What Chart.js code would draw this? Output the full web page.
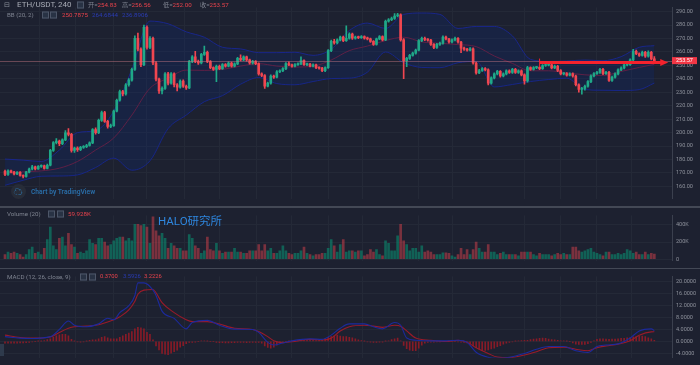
<!DOCTYPE html>
<html lang="zh">
<head>
  <meta charset="UTF-8">
  <title>ETH/USDT, 240</title>
  <script src="https://cdn.jsdelivr.net/npm/chart.js@4"></script>
  <style>
    body { margin: 0; background: #1d2130; }
    #wrap { position: relative; width: 700px; height: 365px; overflow: hidden; background: #1d2130;
            font-family: Roboto, "Noto Sans CJK SC", "Liberation Sans", sans-serif; }
    .pane { position: absolute; left: 0; width: 700px; }
    .sep { position: absolute; left: 0; width: 700px; background: #434855; }
    .t { position: absolute; white-space: nowrap; line-height: 1; transform: translateY(-50%);
         font-size: 6.2px; color: #7f8491; }
    .r { color: #e8434c; }
    .b { color: #2a3cb4; }
    .ico { position: absolute; width: 5px; height: 5px; border: 1px solid #4d5668; background: #283244;
           transform: translateY(-50%); }
  </style>
</head>
<body>
<div id="wrap">
  <div class="pane" style="top:0;height:206px"><canvas id="priceChart"></canvas></div>
  <div class="sep" style="top:206px;height:2px"></div>
  <div class="pane" style="top:208px;height:60px"><canvas id="volChart"></canvas></div>
  <div class="sep" style="top:268px;height:1px"></div>
  <div class="pane" style="top:269px;height:96px"><canvas id="macdChart"></canvas></div>

  <!-- legends -->
  <span class="t" style="left:4px;top:5px;font-size:7px;color:#8a8f9b">⊟</span>
  <span class="t" style="left:17px;top:5px;font-size:8px;color:#a7abb5">ETH/USDT, 240</span>
  <span class="ico" style="left:77px;top:5px"></span>
  <span class="t" style="left:88px;top:5px">开=<span class="r">254.83</span></span>
  <span class="t" style="left:122px;top:5px">高=<span class="r">256.56</span></span>
  <span class="t" style="left:163px;top:5px">低=<span class="r">252.00</span></span>
  <span class="t" style="left:200px;top:5px">收=<span class="r">253.57</span></span>

  <span class="t" style="left:7px;top:15px">BB (20, 2)</span>
  <span class="ico" style="left:42px;top:15px"></span>
  <span class="ico" style="left:50px;top:15px"></span>
  <span class="t r" style="left:62px;top:15px">250.7875</span>
  <span class="t b" style="left:92px;top:15px">264.6844</span>
  <span class="t b" style="left:122px;top:15px">236.8906</span>

  <div style="position:absolute;left:11px;top:184px;width:15px;height:15px;border-radius:50%;background:#272c38"></div>
  <span class="t" style="left:13.5px;top:191.5px;font-size:9px;color:#2f8fd8">☁</span>
  <span class="t" style="left:31px;top:192px;font-size:6.7px;font-weight:600;color:#2a6ea8">Chart by TradingView</span>

  <span class="t" style="left:7px;top:214px">Volume (20)</span>
  <span class="ico" style="left:48px;top:214px"></span>
  <span class="ico" style="left:57px;top:214px"></span>
  <span class="t r" style="left:68px;top:214px">59.928K</span>
  <span class="t" style="left:158px;top:222px;font-size:11.5px;color:#2e86de">HALO研究所</span>

  <span class="t" style="left:7px;top:277px">MACD (12, 26, close, 9)</span>
  <span class="ico" style="left:80px;top:277px"></span>
  <span class="ico" style="left:89px;top:277px"></span>
  <span class="t r" style="left:100px;top:277px;font-size:5.8px">0.3700</span>
  <span class="t b" style="left:123px;top:277px;font-size:5.8px">3.5926</span>
  <span class="t r" style="left:144px;top:277px;font-size:5.8px">3.2226</span>
  <div style="position:absolute;left:0;top:344px;width:4px;height:12px;background:#2e3a4c"></div>
</div>

<script>
  // ETH/USDT 4h candles
  const firstOpen = 171.1;
  const closes = [
    168.8, 171.5, 170.6, 169.2, 170.4, 168.1, 167.4, 170.6, 172.9, 174.5, 172.9, 174.8,
    175.2, 173.4, 175.7, 186.7, 192.5, 193.7, 191.8, 194.6, 199.9, 198.7, 186.7, 188.4,
    187.2, 189.0, 189.5, 190.4, 192.3, 202.2, 199.9, 209.1, 214.9, 208.4, 204.5, 205.2,
    216.0, 224.1, 230.5, 228.7, 235.6, 239.1, 247.1, 270.2, 262.1, 250.6, 278.3, 263.3,
    270.2, 251.8, 239.8, 231.0, 232.9, 243.7, 236.8, 243.7, 235.6, 233.8, 238.4, 234.5,
    233.3, 252.9, 256.4, 252.9, 251.8, 258.2, 259.8, 252.9, 248.3, 247.1, 249.4, 247.6,
    250.6, 249.4, 251.8, 249.4, 251.1, 255.2, 254.1, 256.4, 254.1, 251.8, 252.9, 251.3,
    243.7, 242.5, 234.5, 236.8, 242.1, 241.2, 245.3, 246.0, 247.6, 251.3, 250.4, 249.4,
    250.6, 251.1, 253.6, 250.6, 250.9, 249.4, 250.4, 248.3, 248.0, 246.0, 248.3, 261.0,
    267.9, 266.7, 269.0, 271.1, 268.4, 270.2, 273.4, 270.2, 271.1, 270.7, 271.4, 270.2,
    269.7, 267.9, 265.6, 269.7, 271.4, 269.0, 282.9, 284.0, 284.9, 286.8, 287.7, 269.0,
    253.6, 255.2, 257.5, 259.1, 261.4, 268.4, 270.2, 269.3, 268.8, 265.6, 263.3, 265.6,
    266.5, 271.1, 269.7, 267.4, 269.0, 270.2, 267.4, 262.8, 262.1, 261.4, 262.4, 251.8,
    244.4, 246.2, 247.6, 246.7, 236.8, 240.7, 243.7, 245.5, 242.1, 243.7, 246.0, 244.8,
    247.1, 244.8, 246.0, 243.0, 238.4, 248.3, 247.1, 248.3, 248.5, 247.6, 249.9, 250.2,
    250.5, 248.1, 249.4, 246.2, 243.7, 243.9, 242.8, 243.7, 242.1, 235.6, 232.2, 232.9,
    234.5, 237.9, 242.1, 243.9, 244.8, 247.1, 243.9, 244.8, 238.8, 241.2, 243.7, 246.7,
    248.1, 250.4, 250.6, 254.1, 260.5, 258.7, 257.5, 259.8, 256.8, 259.8, 254.83, 253.57
  ];
  const highs = [
    172.0, 172.3, 172.0, 171.2, 171.0, 170.9, 168.6, 171.2, 173.6, 175.6, 175.0, 175.4,
    176.0, 175.8, 176.5, 187.5, 193.3, 195.5, 194.4, 195.3, 201.5, 203.0, 199.5, 189.2,
    189.4, 189.8, 190.4, 191.2, 193.1, 203.0, 203.6, 210.0, 216.0, 215.8, 209.2, 206.4,
    216.8, 225.0, 231.6, 231.4, 236.5, 240.2, 248.0, 272.0, 274.0, 263.0, 280.0, 279.4,
    271.5, 271.0, 252.8, 240.6, 234.0, 244.6, 244.8, 244.6, 244.4, 236.5, 239.3, 239.2,
    235.3, 253.8, 257.3, 260.5, 254.0, 259.0, 264.4, 260.6, 253.6, 249.0, 250.2, 250.2,
    251.4, 251.3, 252.6, 252.5, 252.0, 256.0, 257.8, 257.2, 257.0, 254.8, 253.7, 253.6,
    252.0, 244.5, 243.2, 237.6, 242.9, 242.8, 246.1, 246.8, 248.4, 252.1, 252.6, 251.0,
    251.3, 251.9, 256.4, 254.2, 251.7, 251.5, 251.1, 251.0, 249.0, 248.6, 249.0, 261.8,
    268.8, 269.5, 269.8, 271.9, 271.8, 279.4, 274.3, 274.0, 271.9, 271.8, 272.2, 272.0,
    271.0, 270.3, 268.5, 270.4, 272.2, 272.0, 283.8, 284.8, 286.0, 288.5, 288.8, 288.4,
    270.0, 256.0, 258.3, 259.9, 262.2, 269.2, 271.0, 271.0, 270.0, 269.4, 266.2, 266.4,
    267.3, 272.0, 271.8, 270.2, 269.8, 271.0, 270.8, 268.0, 263.6, 262.8, 263.2, 263.0,
    252.5, 247.0, 248.4, 248.3, 247.4, 241.5, 244.5, 246.3, 246.2, 244.5, 246.8, 246.7,
    247.9, 247.8, 246.8, 246.7, 243.7, 249.4, 249.0, 249.1, 249.3, 249.2, 250.7, 251.0,
    251.3, 251.2, 250.2, 250.0, 246.9, 244.7, 244.6, 244.5, 244.4, 242.8, 236.3, 233.7,
    235.3, 238.7, 242.9, 244.7, 245.6, 247.9, 247.8, 245.6, 245.5, 242.0, 244.5, 247.5,
    248.9, 251.2, 251.4, 254.9, 262.0, 261.5, 259.4, 260.6, 260.5, 260.8, 260.4, 256.56
  ];
  const lows = [
    168.0, 168.2, 169.9, 168.5, 168.6, 167.5, 166.2, 166.9, 170.0, 172.3, 172.2, 172.5,
    174.0, 172.8, 173.0, 175.2, 185.9, 191.6, 190.2, 191.0, 194.0, 197.5, 185.5, 185.2,
    186.0, 186.6, 188.3, 188.8, 189.8, 191.7, 198.8, 199.2, 208.3, 207.6, 203.2, 203.6,
    204.6, 215.3, 223.4, 227.3, 227.9, 234.6, 238.3, 246.3, 260.8, 249.0, 249.8, 262.0,
    262.5, 250.5, 238.5, 229.2, 228.8, 232.1, 235.5, 236.0, 234.0, 231.0, 233.0, 233.6,
    232.2, 232.6, 252.1, 252.0, 250.8, 251.1, 257.5, 252.0, 247.5, 246.2, 237.9, 246.8,
    247.0, 248.7, 248.8, 248.6, 248.8, 250.5, 253.3, 253.5, 253.2, 251.0, 251.0, 250.5,
    242.8, 241.6, 232.8, 233.9, 236.0, 240.4, 240.6, 244.6, 245.3, 246.9, 249.8, 248.7,
    248.8, 250.0, 250.5, 249.9, 249.8, 248.8, 248.8, 247.6, 247.2, 245.3, 245.4, 247.7,
    260.3, 265.9, 266.0, 268.3, 267.6, 267.8, 269.5, 269.4, 269.6, 269.9, 270.0, 269.5,
    268.9, 267.1, 264.8, 265.0, 269.1, 268.2, 268.4, 282.1, 283.3, 284.2, 286.0, 268.0,
    240.2, 249.0, 254.5, 256.8, 258.4, 260.8, 267.6, 268.5, 268.0, 264.8, 262.4, 262.7,
    264.9, 265.9, 269.0, 266.6, 266.8, 268.3, 266.6, 259.5, 261.2, 260.6, 260.8, 250.9,
    243.5, 243.8, 245.5, 245.9, 235.4, 236.0, 240.0, 243.0, 241.3, 241.4, 243.0, 244.0,
    244.1, 244.0, 244.1, 242.2, 236.0, 237.6, 246.3, 246.5, 247.6, 246.9, 247.0, 249.2,
    249.6, 247.4, 247.5, 245.4, 242.9, 243.0, 242.0, 242.1, 241.3, 234.8, 230.0, 228.6,
    231.5, 233.8, 237.2, 241.5, 243.2, 244.1, 243.1, 243.2, 238.0, 238.1, 240.5, 243.0,
    246.0, 247.4, 249.7, 249.9, 253.4, 257.9, 256.7, 256.8, 256.0, 256.1, 254.1, 252.00
  ];
  // volume in K
  const volumes = [
    53, 82, 68, 82, 68, 53, 24, 53, 112, 141, 68, 82,
    53, 126, 229, 376, 156, 112, 244, 259, 156, 303, 170, 141,
    68, 82, 68, 97, 229, 185, 170, 244, 244, 200, 156, 170,
    215, 244, 259, 259, 215, 244, 215, 406, 406, 391, 406, 376,
    185, 494, 332, 273, 303, 244, 126, 185, 156, 126, 126, 97,
    97, 288, 244, 156, 126, 68, 97, 259, 112, 97, 185, 97,
    68, 82, 82, 82, 126, 82, 82, 68, 68, 97, 97, 97,
    170, 97, 170, 97, 126, 68, 68, 97, 156, 97, 68, 53,
    68, 68, 97, 141, 68, 53, 38, 53, 53, 68, 68, 126,
    229, 156, 82, 170, 229, 82, 97, 97, 82, 97, 97, 38,
    53, 112, 82, 112, 53, 38, 215, 185, 97, 97, 273, 406,
    215, 170, 97, 126, 126, 82, 156, 82, 97, 82, 53, 53,
    53, 74, 74, 68, 38, 24, 53, 126, 53, 112, 53, 112,
    200, 126, 82, 82, 170, 82, 82, 53, 68, 82, 53, 53,
    53, 53, 38, 82, 82, 82, 82, 53, 38, 68, 53, 53,
    53, 38, 53, 68, 53, 68, 53, 53, 141, 141, 97, 82,
    97, 112, 126, 82, 68, 53, 38, 82, 82, 53, 53, 68,
    53, 68, 112, 97, 68, 82, 53, 53, 82, 53, 68, 59.928
  ];
  const macdHist = [
    -0.6, -0.6, -0.6, -0.6, -0.6, -0.5, -0.5, -0.4, -0.3, -0.1, 0.0, 0.1,
    0.1, 0.3, 0.6, 0.9, 1.4, 1.9, 2.2, 2.4, 2.4, 1.9, 0.7, 0.1,
    -0.1, -0.2, -0.1, 0.1, 0.4, 0.5, 0.5, 0.9, 1.4, 1.6, 1.2, 0.9,
    0.9, 0.9, 1.4, 1.9, 2.4, 2.8, 3.3, 4.2, 4.7, 4.5, 4.2, 3.0,
    2.4, 0.5, -1.5, -2.8, -4.0, -4.2, -4.4, -3.9, -3.4, -2.9, -1.9, -1.4,
    -0.7, -0.3, -0.3, -0.2, 0.0, 0.2, 0.2, 0.1, 0.0, 0.0, -0.3, -0.4,
    -0.4, -0.5, -0.5, -0.4, -0.4, -0.3, -0.3, -0.3, -0.4, -0.3, -0.3, -0.3,
    -0.3, -0.6, -1.5, -2.0, -2.2, -1.9, -1.2, -0.6, -0.3, 0.0, 0.1, 0.2,
    0.3, 0.3, 0.5, 0.4, 0.5, 0.5, 0.4, 0.3, 0.4, 0.6, 0.9, 1.4,
    1.6, 1.8, 2.1, 1.8, 1.6, 1.6, 1.4, 1.2, 0.9, 0.5, 0.3, 0.1,
    -0.1, -0.2, -0.3, -0.3, -0.2, -0.2, 0.1, 0.2, 0.6, 0.9, 1.1, 0.2,
    -1.3, -2.4, -2.9, -3.1, -3.1, -2.2, -1.2, -0.6, -0.3, -0.2, -0.2, -0.1,
    -0.1, 0.0, 0.0, 0.1, 0.1, 0.0, -0.1, -0.2, -0.3, -0.5, -0.8, -1.5,
    -2.1, -2.6, -3.1, -3.0, -2.8, -2.5, -2.2, -1.7, -1.4, -0.9, -0.6, -0.3,
    -0.1, 0.1, 0.2, 0.3, 0.4, 0.4, 0.6, 0.8, 0.9, 1.0, 1.1, 1.0,
    0.8, 0.6, 0.5, 0.4, 0.2, 0.2, 0.1, 0.0, -0.5, -0.9, -1.0, -1.0,
    -1.0, -0.7, -0.3, 0.2, 0.7, 0.9, 0.9, 0.8, 0.7, 0.8, 0.8, 0.9,
    1.0, 1.0, 1.2, 1.3, 1.5, 1.6, 1.7, 1.8, 1.6, 1.2, 0.9, 0.37
  ];

  // Bollinger bands, read every 6 candles
  const bbIdx = [0, 6, 12, 18, 24, 30, 36, 42, 48, 54, 60, 66, 72, 78, 84, 90, 96, 102, 108,
                 114, 120, 126, 132, 138, 144, 150, 156, 162, 168, 174, 180, 186, 192, 198, 204, 210, 215];
  const bbUpper = [180.3, 179.5, 178.5, 187.0, 200.0, 201.5, 216.0, 247.0, 283.0, 281.0, 275.0, 271.0,
                   263.5, 262.3, 259.5, 259.5, 259.8, 257.5, 262.0, 276.0, 281.5, 277.5, 288.0, 289.0,
                   288.0, 277.5, 279.0, 279.0, 272.0, 254.5, 253.0, 253.3, 254.0, 253.5, 256.5, 263.5, 264.68];
  const bbMiddle = [170.0, 170.8, 171.5, 173.5, 178.5, 187.0, 196.0, 213.0, 233.0, 240.5, 246.5, 246.3,
                    247.0, 249.5, 251.3, 249.5, 248.8, 249.4, 254.0, 261.0, 264.4, 268.5, 271.0, 267.5,
                    266.5, 265.5, 264.0, 257.0, 251.5, 246.0, 246.0, 244.5, 243.0, 242.5, 245.5, 248.5, 250.79];
  const bbLower = [160.8, 164.5, 167.5, 167.7, 168.5, 174.0, 181.0, 172.0, 179.0, 203.0, 213.0, 223.0,
                   227.5, 236.0, 241.0, 236.5, 235.6, 238.0, 240.2, 240.5, 245.0, 260.0, 252.0, 248.5,
                   248.3, 252.0, 253.0, 234.0, 235.8, 238.0, 239.5, 240.5, 232.0, 231.5, 231.3, 232.0, 236.89];

  // MACD (12, 26, 9) lines, read at these candles
  const macdIdx = [0, 5, 9, 15, 18, 21, 23, 27, 31, 34, 36, 38, 41, 43, 44, 46, 49, 50, 52, 56,
                   60, 62, 67, 71, 76, 82, 84, 87, 89, 92, 95, 101, 105, 108, 111, 114, 119, 122, 125, 129,
                   131, 133, 136, 141, 146, 150, 153, 156, 160, 163, 167, 172, 176, 180, 185, 189, 193, 196, 199, 203,
                   207, 210, 214, 215];
  const macdLine = [1.6, 1.1, 1.0, 1.6, 4.0, 6.8, 5.4, 4.9, 5.85, 7.7, 7.2, 9.6, 11.9, 15.3, 19.5, 19.5, 17.1, 15.3, 10.1, 7.7,
                    4.2, 6.3, 7.0, 5.4, 4.1, 4.0, 3.0, -0.3, -1.2, -0.5, 0.2, 0.85, 0.7, 2.1, 4.4, 5.85, 5.85, 4.9, 4.2, 6.3,
                    5.4, 1.15, 0.4, 0.2, 0.2, 0.4, -0.3, -3.6, -5.3, -5.6, -5.3, -4.0, -2.6, -1.7, -1.7, -3.1, -3.7, -1.7, -1.2, -0.8,
                    1.15, 3.5, 4.2, 3.5926];
  const signalLine = [2.1, 1.3, 1.1, 1.5, 3.0, 4.4, 4.9, 5.1, 5.55, 6.5, 7.2, 8.2, 10.5, 13.4, 15.7, 17.1, 17.3, 16.2, 12.9, 9.6,
                      7.2, 6.6, 6.6, 5.8, 4.4, 4.0, 3.3, 1.6, 0.2, -0.4, -0.1, 0.7, 0.5, 1.1, 3.5, 4.9, 5.4, 5.1, 4.7, 5.4,
                      5.1, 3.5, 1.15, 0.4, 0.0, 0.4, -0.3, -2.1, -4.0, -5.2, -5.4, -4.5, -3.4, -2.1, -1.9, -2.6, -3.1, -2.1, -1.5, -0.9,
                      0.2, 2.1, 3.2, 3.2226];

  const priceTicks = [160, 170, 180, 190, 200, 210, 220, 230, 240, 250, 260, 270, 280, 290];
  const volumeTicks = [0, 200, 400];
  const macdTicks = [-4, 0, 4, 8, 12, 16, 20];
  const timeGridIdx = [11.5, 23.5, 35.8, 47, 59.3, 70.9, 83.4, 95, 107, 118.5, 136.8, 148.3, 171.9, 183.8, 196, 207.6];

  const lastPrice = 253.57;
  const arrowMark = { fromIndex: 177, toIndex: 219.6, price: 252.1 };

  const FONT = 'Roboto, "Liberation Sans", sans-serif';
  const GRID = '#242937';
  const UP = '#1fa888';
  const DOWN = '#f04650';
  const X_MIN = -1.66, X_MAX = 220.85;

  const opens = [firstOpen].concat(closes.slice(0, -1));
  const candleIdx = closes.map((c, i) => i);
  const rising = closes.map((c, i) => c >= opens[i]);
  const pts = (ix, vals) => ix.map((x, k) => ({ x: x, y: vals[k] }));

  function timeAxis() {
    return {
      type: 'linear', min: X_MIN, max: X_MAX, offset: false,
      afterBuildTicks: a => { a.ticks = timeGridIdx.map(v => ({ value: v })); },
      afterFit: a => { a.height = 0; },
      ticks: { display: false },
      grid: { color: GRID, drawTicks: false, offset: false },
      border: { display: false }
    };
  }

  function sideAxis(min, max, ticks, fmt) {
    return {
      position: 'right', min: min, max: max, beginAtZero: false,
      afterBuildTicks: a => { a.ticks = ticks.map(v => ({ value: v })); },
      afterFit: a => { a.width = 28; },
      ticks: { color: '#8e929c', font: { family: FONT, size: 5.5 }, padding: 4, callback: fmt },
      grid: { color: GRID, drawTicks: false },
      border: { color: '#3b404e' }
    };
  }

  function baseOptions(yAxis) {
    return {
      responsive: true, maintainAspectRatio: false, animation: false, events: [],
      layout: { padding: 0 },
      plugins: { legend: { display: false }, tooltip: { enabled: false } },
      scales: { x: timeAxis(), y: yAxis }
    };
  }

  // last price line, red arrow and price tag
  const priceMarks = {
    id: 'priceMarks',
    afterDatasetsDraw(chart) {
      const { ctx, chartArea: a, scales: { x, y } } = chart;
      const py = Math.round(y.getPixelForValue(lastPrice)) + 0.5;
      ctx.save();
      ctx.strokeStyle = 'rgba(200,120,130,0.45)';
      ctx.lineWidth = 1;
      ctx.beginPath(); ctx.moveTo(a.left, py); ctx.lineTo(a.right, py); ctx.stroke();

      const ay = y.getPixelForValue(arrowMark.price);
      const x0 = x.getPixelForValue(arrowMark.fromIndex);
      const x1 = x.getPixelForValue(arrowMark.toIndex);
      ctx.strokeStyle = '#f5222d';
      ctx.fillStyle = '#f5222d';
      ctx.lineWidth = 3;
      ctx.beginPath(); ctx.moveTo(x0, ay); ctx.lineTo(x1 - 6, ay); ctx.stroke();
      ctx.lineWidth = 1;
      ctx.beginPath(); ctx.moveTo(x0, ay - 4); ctx.lineTo(x0, ay + 4); ctx.stroke();
      ctx.beginPath(); ctx.moveTo(x1, ay); ctx.lineTo(x1 - 8, ay - 3.5); ctx.lineTo(x1 - 8, ay + 3.5);
      ctx.closePath(); ctx.fill();
      ctx.restore();
    },
    afterDraw(chart) {
      const { ctx, chartArea: a, scales: { y } } = chart;
      const py = y.getPixelForValue(lastPrice);
      ctx.save();
      ctx.fillStyle = '#f23645';
      ctx.fillRect(a.right, py - 3.5, 25, 7);
      ctx.fillStyle = '#ffffff';
      ctx.font = '5.5px ' + FONT;
      ctx.textBaseline = 'middle';
      ctx.fillText(lastPrice.toFixed(2), a.right + 4, py + 0.3);
      ctx.restore();
    }
  };

  new Chart(document.getElementById('priceChart'), {
    type: 'bar',
    data: {
      datasets: [
        { type: 'line', data: pts(bbIdx, bbUpper), borderColor: '#19268a', borderWidth: 1, pointRadius: 0,
          cubicInterpolationMode: 'monotone', fill: '+2', backgroundColor: 'rgba(16,44,120,0.28)', order: 3 },
        { type: 'line', data: pts(bbIdx, bbMiddle), borderColor: '#7e1c33', borderWidth: 1, pointRadius: 0,
          cubicInterpolationMode: 'monotone', fill: false, order: 3 },
        { type: 'line', data: pts(bbIdx, bbLower), borderColor: '#19268a', borderWidth: 1, pointRadius: 0,
          cubicInterpolationMode: 'monotone', fill: false, order: 3 },
        { data: candleIdx.map(i => ({ x: i, y: [lows[i], highs[i]] })),
          backgroundColor: rising.map(r => r ? UP : DOWN), barThickness: 1, grouped: false, order: 1 },
        { data: candleIdx.map(i => ({ x: i, y: [opens[i], closes[i]] })),
          backgroundColor: rising.map(r => r ? UP : DOWN), barThickness: 2, grouped: false, minBarLength: 1, order: 0 }
      ]
    },
    options: baseOptions(sideAxis(150.79, 293.25, priceTicks, v => v.toFixed(2))),
    plugins: [priceMarks]
  });

  new Chart(document.getElementById('volChart'), {
    type: 'bar',
    data: {
      datasets: [{
        data: candleIdx.map(i => ({ x: i, y: volumes[i] })),
        backgroundColor: rising.map(r => r ? 'rgba(10,140,112,0.6)' : 'rgba(215,66,76,0.5)'),
        barThickness: 2, grouped: false
      }]
    },
    options: baseOptions(sideAxis(-17.7, 512.1, volumeTicks, v => v === 0 ? '0' : v + 'K'))
  });

  new Chart(document.getElementById('macdChart'), {
    type: 'bar',
    data: {
      datasets: [
        { type: 'line', data: pts(macdIdx, macdLine), borderColor: '#1c2a9c', borderWidth: 1.1, pointRadius: 0,
          cubicInterpolationMode: 'monotone', order: 0 },
        { type: 'line', data: pts(macdIdx, signalLine), borderColor: '#991a2a', borderWidth: 1.1, pointRadius: 0,
          cubicInterpolationMode: 'monotone', order: 1 },
        { data: candleIdx.map(i => ({ x: i, y: macdHist[i] })), backgroundColor: '#861b27',
          barThickness: 1, grouped: false, order: 2 }
      ]
    },
    options: baseOptions(sideAxis(-5.41, 21.69, macdTicks, v => v.toFixed(4)))
  });
</script>
</body>
</html>
